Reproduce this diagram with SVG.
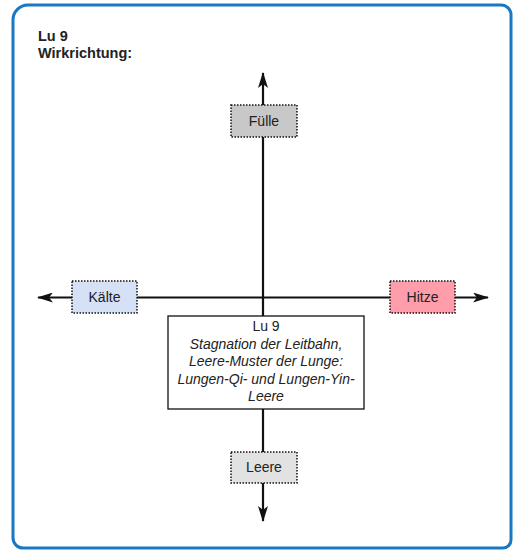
<svg xmlns="http://www.w3.org/2000/svg" width="514" height="551" viewBox="0 0 514 551">
<defs>
<style>
.frame{fill:#ffffff;stroke:#1a78c2;stroke-width:3}
.axis{stroke:#111;stroke-width:2.2;fill:none}
.node{stroke:#111;stroke-width:1.5;stroke-dasharray:1.5 1.5}
.lbl{font-family:"Liberation Sans",Arial,sans-serif;font-size:14px;fill:#222;text-anchor:middle}
.title{font-family:"Liberation Sans",Arial,sans-serif;font-size:14.5px;font-weight:bold;fill:#222}
.it{font-style:italic}
</style>
<marker id="arr" viewBox="0 0 16 10" refX="15" refY="5" markerWidth="16" markerHeight="10" markerUnits="userSpaceOnUse" orient="auto">
<path d="M0,0 L16,5 L0,10 L4,5 Z" fill="#111"/>
</marker>
</defs>
<path class="frame" d="M28,5 H501 A10,10 0 0 1 511,15 V540 A8,8 0 0 1 503,548 H23 A10,10 0 0 1 13,538 V20 A15,15 0 0 1 28,5 Z"/>
<text class="title" x="38" y="41">Lu 9</text>
<text class="title" x="38" y="58">Wirkrichtung:</text>
<g id="connectors">
<line class="axis" x1="263" y1="297" x2="263" y2="73" marker-end="url(#arr)"/>
<line class="axis" x1="263" y1="297" x2="263" y2="521" marker-end="url(#arr)"/>
<line class="axis" x1="263" y1="297.5" x2="38" y2="297.5" marker-end="url(#arr)"/>
<line class="axis" x1="263" y1="297.5" x2="488" y2="297.5" marker-end="url(#arr)"/>
</g>
<g id="fulle">
<rect class="node" x="231" y="105" width="66" height="32" fill="#c8c8c8"/>
<text class="lbl" x="264" y="126">Fülle</text>
</g>
<g id="kalte">
<rect class="node" x="72" y="281" width="65" height="32" fill="#d6e1f6"/>
<text class="lbl" x="104.5" y="302">Kälte</text>
</g>
<g id="hitze">
<rect class="node" x="390" y="281" width="65" height="32" fill="#ff9dab"/>
<text class="lbl" x="422.5" y="302">Hitze</text>
</g>
<g id="leere">
<rect class="node" x="231" y="452" width="66" height="31" fill="#e2e2e2"/>
<text class="lbl" x="264" y="472">Leere</text>
</g>
<g id="lu9">
<rect x="168" y="316" width="196" height="93" fill="#ffffff" stroke="#111" stroke-width="1.3"/>
<text class="lbl" x="266" y="331">Lu 9</text>
<text class="lbl it" x="266" y="348.5">Stagnation der Leitbahn,</text>
<text class="lbl it" x="266" y="366">Leere-Muster der Lunge:</text>
<text class="lbl it" x="266" y="383.5">Lungen-Qi- und Lungen-Yin-</text>
<text class="lbl it" x="266" y="401">Leere</text>
</g>
</svg>
